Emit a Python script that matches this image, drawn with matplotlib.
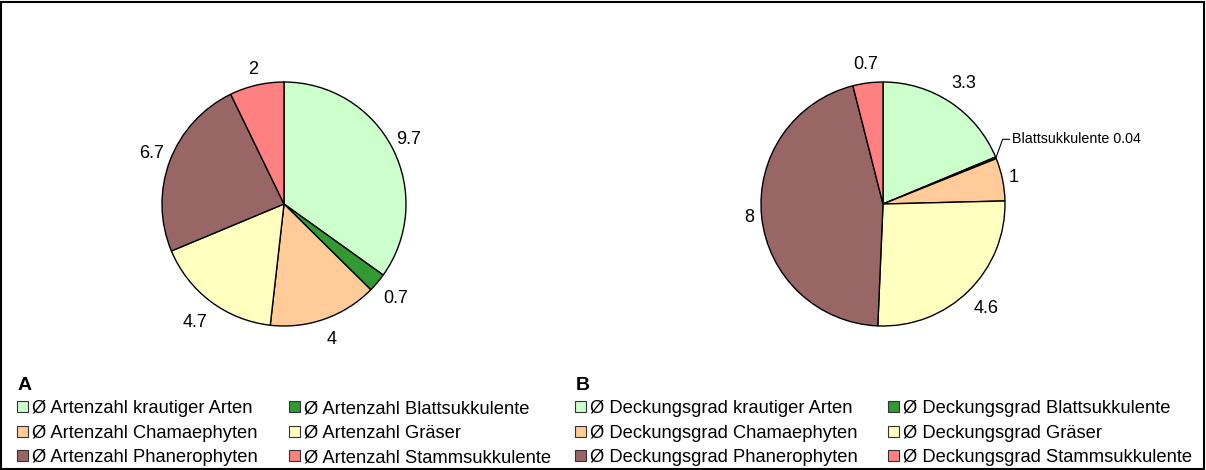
import matplotlib
matplotlib.use("Agg")
import matplotlib.pyplot as plt
from matplotlib.patches import Patch, Rectangle
import numpy as np

plt.rcParams['font.family'] = ['Liberation Sans', 'DejaVu Sans']

groups = ["krautiger Arten", "Blattsukkulente", "Chamaephyten", "Gräser",
          "Phanerophyten", "Stammsukkulente"]
colors = ["#CCFFCC", "#339933", "#FFCC99", "#FFFFC0", "#996666", "#FF8080"]

artenzahl = [9.7, 0.7, 4, 4.7, 6.7, 2]
deckungsgrad = [3.3, 0.04, 1, 4.6, 8, 0.7]

W, H = 1206, 470
fig = plt.figure(figsize=(W / 100, H / 100), dpi=100)

def pie_axes(cx, cy, r):
    return fig.add_axes([(cx - r) / W, (H - cy - r) / H, 2 * r / W, 2 * r / H])

def fmt(v):
    return f"{v:g}"

def draw_pie(ax, values, dist, hidden=()):
    wedges, texts = ax.pie(values, colors=colors, startangle=90, counterclock=False,
                           radius=1, labels=[fmt(v) for v in values],
                           labeldistance=1.1,
                           wedgeprops=dict(edgecolor='black', linewidth=1.0),
                           textprops=dict(fontsize=13, color='black'))
    ax.set_xlim(-1, 1)
    ax.set_ylim(-1, 1)
    ax.set_aspect('equal')
    ax.axis('off')
    for i, (w, t) in enumerate(zip(wedges, texts)):
        ang = np.deg2rad((w.theta1 + w.theta2) / 2)
        d = dist[i]
        t.set_position((d * np.cos(ang), d * np.sin(ang)))
        t.set_ha('center')
        t.set_va('center')
        t.set_clip_on(False)
        if i in hidden:
            t.set_visible(False)
    return wedges

axA = pie_axes(284, 204, 122)
draw_pie(axA, artenzahl, [1.15, 1.20, 1.18, 1.21, 1.16, 1.135])

axB = pie_axes(883, 204, 122)
wB = draw_pie(axB, deckungsgrad, [1.19, 1.12, 1.09, 1.205, 1.10, 1.15], hidden=(1,))
# leader label for the tiny Blattsukkulente slice
w = wB[1]
ang = np.deg2rad((w.theta1 + w.theta2) / 2)
p0 = (np.cos(ang), np.sin(ang))
axB.annotate(f"Blattsukkulente {fmt(deckungsgrad[1])}", xy=p0,
             xytext=(1.06, 0.53), textcoords='data', fontsize=10.3,
             va='center', ha='left', annotation_clip=False,
             arrowprops=dict(arrowstyle='-', color='black', linewidth=0.8,
                             shrinkA=0, shrinkB=0,
                             connectionstyle='angle,angleA=0,angleB=70,rad=0'))

def legend_column(x, prefix, idx):
    handles = [Patch(facecolor=colors[i], edgecolor='#333333', linewidth=0.8,
                     label=f"Ø {prefix} {groups[i]}") for i in idx]
    fig.legend(handles=handles, ncol=1, loc='upper left',
               bbox_to_anchor=(x / W, 1 - 400 / H), frameon=False,
               fontsize=13.2, handlelength=0.6, handleheight=0.55,
               handletextpad=0.2, labelspacing=0.42,
               borderaxespad=0, borderpad=0)

def legend_block(x1, x2, prefix, title):
    fig.text((x1 + 1) / W, 1 - 386 / H, title, fontsize=14, fontweight='bold',
             va='center', ha='left')
    legend_column(x1, prefix, [0, 2, 4])
    legend_column(x2, prefix, [1, 3, 5])

legend_block(17, 289, "Artenzahl", "A")
legend_block(575, 888, "Deckungsgrad", "B")

fig.patches.append(Rectangle((1 / W, 1 / H), (W - 3) / W, (H - 3) / H,
                             transform=fig.transFigure, fill=False,
                             edgecolor='black', linewidth=1.5))

fig.savefig("out.png", dpi=100, facecolor='white')
